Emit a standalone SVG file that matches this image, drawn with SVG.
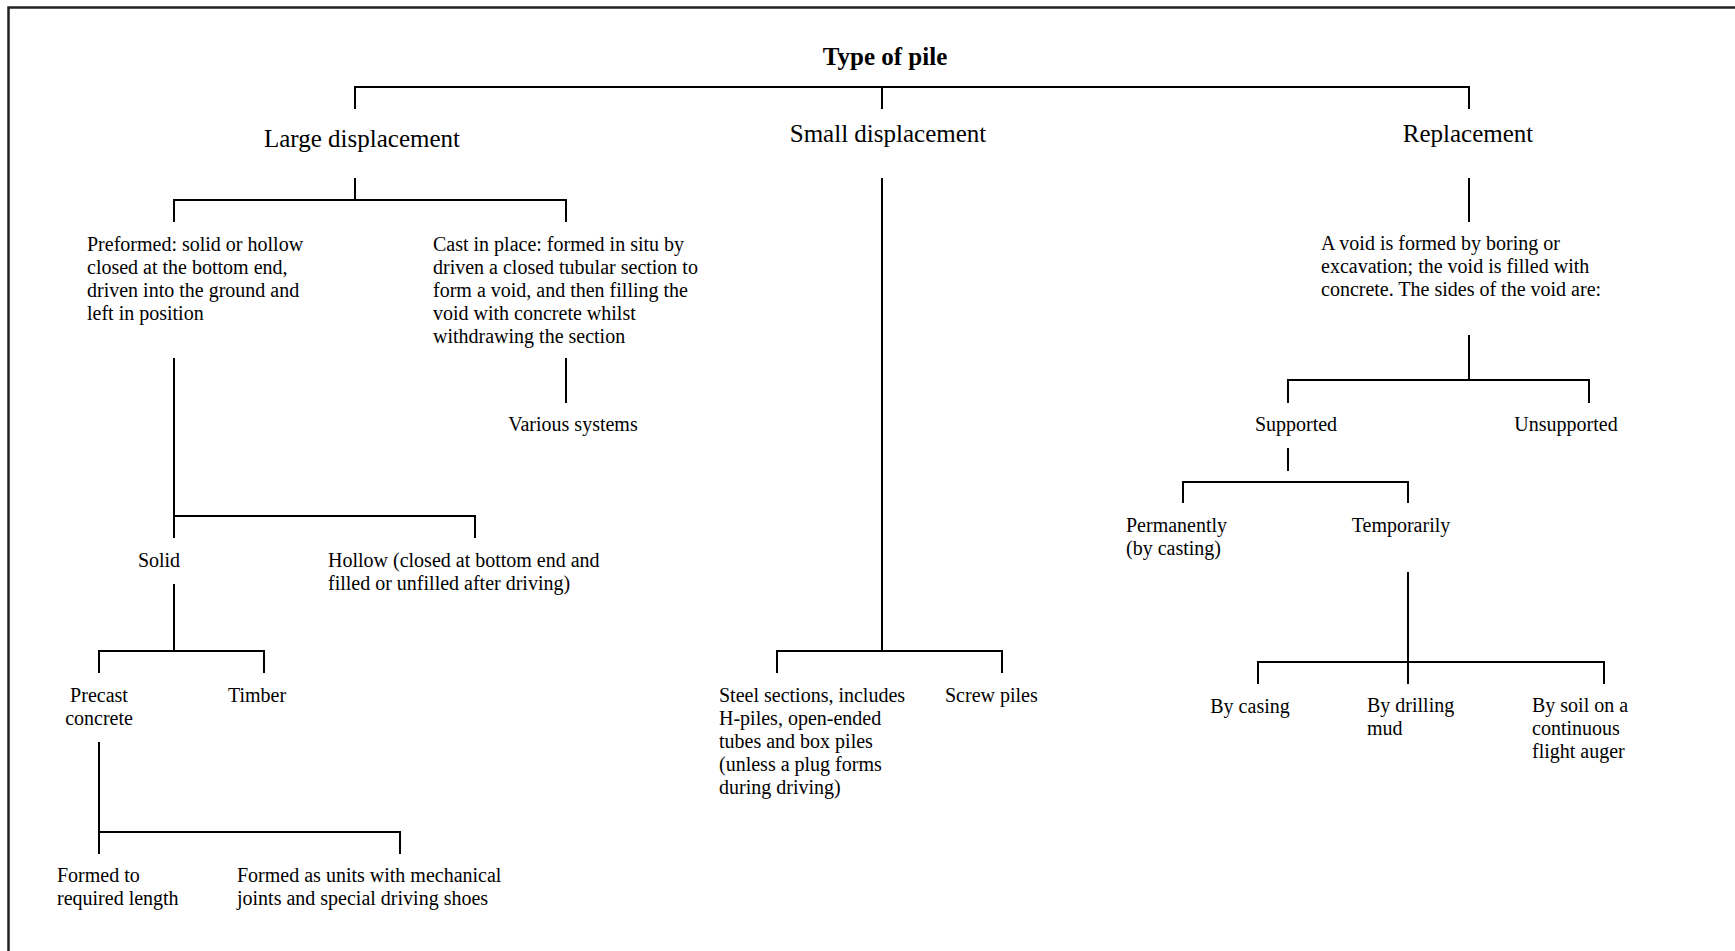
<svg xmlns="http://www.w3.org/2000/svg" width="1735" height="951" viewBox="0 0 1735 951">
<style>
text{font-family:"Liberation Serif","Times New Roman",serif;font-size:20px;fill:#000}
.h1{font-size:25px}
.t{font-size:25px;font-weight:bold}
.c{text-anchor:middle}
.ln{fill:none;stroke:#000;stroke-width:2}
.frame{fill:none;stroke:#222;stroke-width:2.5}
</style>
<rect width="1735" height="951" fill="#fff"/>
<path class="frame" d="M8.5,951 V7.5 H1735"/>
<g id="connectors">
<path class="ln" d="M355,109 V87 H1469 V109 M882,87 V109"/>
<path class="ln" d="M355,178 V200 M174,222 V200 H566 V222"/>
<path class="ln" d="M566,358 V403"/>
<path class="ln" d="M174,358 V538 M174,516 H475 V538"/>
<path class="ln" d="M174,584 V651 M99,673 V651 H264 V673"/>
<path class="ln" d="M99,742 V854 M99,832 H400 V854"/>
<path class="ln" d="M882,178 V651 M777,673 V651 H1002 V673"/>
<path class="ln" d="M1469,178 V222"/>
<path class="ln" d="M1469,335 V380 M1288,403 V380 H1589 V403"/>
<path class="ln" d="M1288,448 V471"/>
<path class="ln" d="M1183,503 V482 H1408 V503"/>
<path class="ln" d="M1408,572 V684 M1258,684 V662 H1604 V684"/>
</g>
<g id="n-root"><text class="t c" x="885" y="65">Type of pile</text></g>
<g id="n-large"><text class="h1 c" x="362" y="147">Large displacement</text></g>
<g id="n-small"><text class="h1 c" x="888" y="142">Small displacement</text></g>
<g id="n-replacement"><text class="h1 c" x="1468" y="142">Replacement</text></g>
<g id="n-preformed"><text x="87" y="251">Preformed: solid or hollow<tspan x="87" dy="23.1">closed at the bottom end,</tspan><tspan x="87" dy="23.1">driven into the ground and</tspan><tspan x="87" dy="23.1">left in position</tspan></text></g>
<g id="n-cast"><text x="433" y="251">Cast in place: formed in situ by<tspan x="433" dy="23.1">driven a closed tubular section to</tspan><tspan x="433" dy="23.1">form a void, and then filling the</tspan><tspan x="433" dy="23.1">void with concrete whilst</tspan><tspan x="433" dy="23.1">withdrawing the section</tspan></text></g>
<g id="n-various"><text class="c" x="573" y="431">Various systems</text></g>
<g id="n-solid"><text class="c" x="159" y="567">Solid</text></g>
<g id="n-hollow"><text x="328" y="567">Hollow (closed at bottom end and<tspan x="328" dy="22.7">filled or unfilled after driving)</tspan></text></g>
<g id="n-precast"><text class="c" x="99" y="702">Precast<tspan class="c" x="99" dy="22.7">concrete</tspan></text></g>
<g id="n-timber"><text class="c" x="257" y="702">Timber</text></g>
<g id="n-formed-length"><text x="57" y="882">Formed to<tspan x="57" dy="23.2">required length</tspan></text></g>
<g id="n-formed-units"><text x="237" y="882">Formed as units with mechanical<tspan x="237" dy="23.2">joints and special driving shoes</tspan></text></g>
<g id="n-steel"><text x="719" y="702">Steel sections, includes<tspan x="719" dy="22.9">H-piles, open-ended</tspan><tspan x="719" dy="22.9">tubes and box piles</tspan><tspan x="719" dy="22.9">(unless a plug forms</tspan><tspan x="719" dy="22.9">during driving)</tspan></text></g>
<g id="n-screw"><text x="945" y="702">Screw piles</text></g>
<g id="n-void"><text x="1321" y="250">A void is formed by boring or<tspan x="1321" dy="23.2">excavation; the void is filled with</tspan><tspan x="1321" dy="23.2">concrete. The sides of the void are:</tspan></text></g>
<g id="n-supported"><text class="c" x="1296" y="431">Supported</text></g>
<g id="n-unsupported"><text class="c" x="1566" y="431">Unsupported</text></g>
<g id="n-permanently"><text x="1126" y="532">Permanently<tspan x="1126" dy="23.2">(by casting)</tspan></text></g>
<g id="n-temporarily"><text class="c" x="1401" y="532">Temporarily</text></g>
<g id="n-bycasing"><text class="c" x="1250" y="713">By casing</text></g>
<g id="n-bymud"><text x="1367" y="712">By drilling<tspan x="1367" dy="22.9">mud</tspan></text></g>
<g id="n-bysoil"><text x="1532" y="712">By soil on a<tspan x="1532" dy="23">continuous</tspan><tspan x="1532" dy="23">flight auger</tspan></text></g>
</svg>
